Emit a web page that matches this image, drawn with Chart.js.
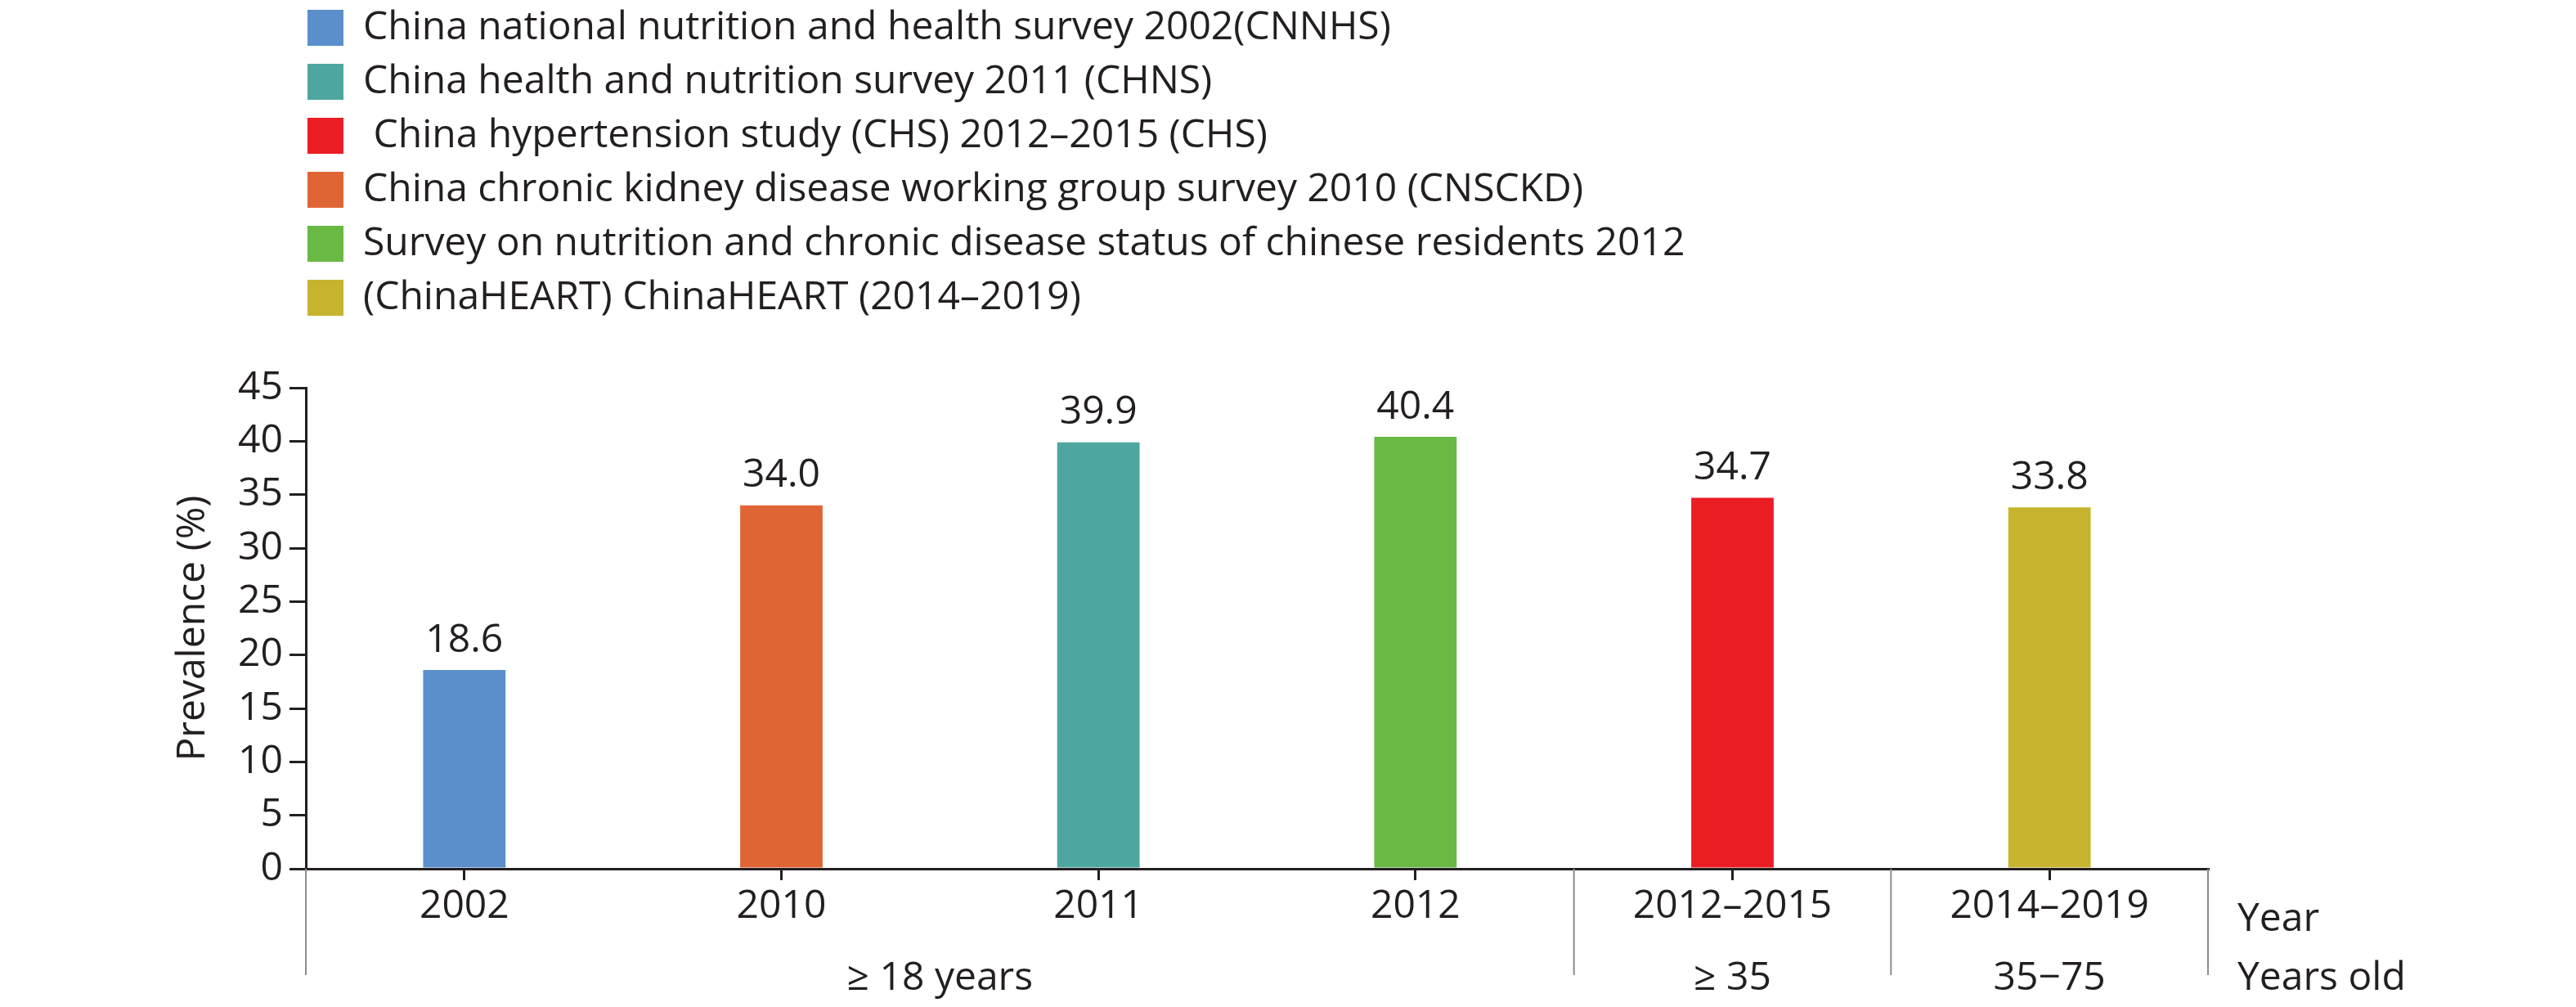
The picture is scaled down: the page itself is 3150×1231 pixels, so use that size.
<!DOCTYPE html>
<html>
<head>
<meta charset="utf-8">
<script src="https://cdn.jsdelivr.net/npm/chart.js@4"></script>
<style>
  html, body { margin: 0; padding: 0; background: #fff; }
  #wrap { width: 3150px; height: 1231px; }
</style>
</head>
<body>
<div id="wrap"><canvas id="chart" width="3150" height="1231"></canvas></div>
<script>
const years = ['2002', '2010', '2011', '2012', '2012\u20132015', '2014\u20132019'];
const prevalence = [18.6, 34.0, 39.9, 40.4, 34.7, 33.8];
const barColors = ['#5b8fcb', '#e06535', '#4ea6a0', '#69b944', '#eb1d25', '#c7b42e'];
const legendLabels = [
    'China national nutrition and health survey 2002(CNNHS)',
    'China health and nutrition survey 2011 (CHNS)',
    ' China hypertension study (CHS) 2012\u20132015 (CHS)',
    'China chronic kidney disease working group survey 2010 (CNSCKD)',
    'Survey on nutrition and chronic disease status of chinese residents 2012',
    '(ChinaHEART) ChinaHEART (2014\u20132019)'
];
const legendColors = ['#5b8fcb', '#4ea6a0', '#eb1d25', '#e06535', '#69b944', '#c7b42e'];
const ageGroups = [
    { label: '\u2265 18 years', from: 0, to: 3 },
    { label: '\u2265 35', from: 4, to: 4 },
    { label: '35\u221275', from: 5, to: 5 }
];
const yTicks = [0, 5, 10, 15, 20, 25, 30, 35, 40, 45];

const FONT = "'Open Sans', 'Noto Sans', sans-serif";
const TEXT = '#231f20';
const FS = 48;

const extras = {
    id: 'extras',
    afterDraw(chart) {
        const ctx = chart.ctx;
        const x = chart.scales.x;
        const y = chart.scales.y;
        const area = chart.chartArea;
        ctx.save();
        ctx.fillStyle = TEXT;
        ctx.font = FS + 'px ' + FONT;

        // value labels
        ctx.textAlign = 'center';
        ctx.textBaseline = 'bottom';
        prevalence.forEach((v, i) => {
            ctx.fillText(v.toFixed(1), x.getPixelForValue(i), y.getPixelForValue(v) - 12);
        });

        // y title
        ctx.save();
        ctx.translate(236, (area.top + area.bottom) / 2);
        ctx.rotate(-Math.PI / 2);
        ctx.textBaseline = 'middle';
        ctx.fillText('Prevalence (%)', 0, 0);
        ctx.restore();

        // legend
        ctx.textAlign = 'left';
        ctx.textBaseline = 'middle';
        legendLabels.forEach((t, i) => {
            const cy = 34 + i * 66;
            ctx.fillStyle = legendColors[i];
            ctx.fillRect(376, cy - 22, 44, 44);
            ctx.fillStyle = TEXT;
            ctx.fillText(t, 444, cy);
        });

        // separators below the axis
        ctx.strokeStyle = '#8c8c8c';
        ctx.lineWidth = 2;
        const seps = [area.left, (x.getPixelForValue(3) + x.getPixelForValue(4)) / 2,
                      (x.getPixelForValue(4) + x.getPixelForValue(5)) / 2, area.right];
        seps.forEach(px => {
            ctx.beginPath();
            ctx.moveTo(px, area.bottom);
            ctx.lineTo(px, area.bottom + 130);
            ctx.stroke();
        });

        // age groups
        ctx.textAlign = 'center';
        ageGroups.forEach(g => {
            const cx = (x.getPixelForValue(g.from) + x.getPixelForValue(g.to)) / 2;
            ctx.fillText(g.label, cx, 1196);
        });
        ctx.textAlign = 'left';
        ctx.fillText('Year', area.right + 36, 1124);
        ctx.fillText('Years old', area.right + 36, 1196);
        ctx.restore();
    }
};

new Chart(document.getElementById('chart'), {
    type: 'bar',
    data: {
        labels: years,
        datasets: [{
            data: prevalence,
            backgroundColor: barColors,
            barPercentage: 0.26,
            categoryPercentage: 1.0
        }]
    },
    options: {
        responsive: false,
        animation: false,
        devicePixelRatio: 1,
        layout: { padding: { top: 474, right: 450, left: 0, bottom: 0 } },
        plugins: { legend: { display: false }, tooltip: { enabled: false } },
        scales: {
            x: {
                afterFit(s) { s.height = 169; },
                grid: { display: true, drawOnChartArea: false, drawTicks: true, tickLength: 14, color: TEXT, lineWidth: 3, offset: false },
                border: { color: TEXT, width: 3 },
                ticks: { color: TEXT, font: { size: FS, family: FONT }, padding: 4 }
            },
            y: {
                min: 0,
                max: 45,
                afterFit(s) { s.width = 374; },
                afterBuildTicks(s) { s.ticks = yTicks.map(v => ({ value: v })); },
                grid: { display: true, drawOnChartArea: false, drawTicks: true, tickLength: 20, color: TEXT, lineWidth: 3 },
                border: { color: TEXT, width: 3 },
                ticks: { color: TEXT, font: { size: FS, family: FONT }, padding: 8 }
            }
        }
    },
    plugins: [extras]
});
</script>
</body>
</html>
